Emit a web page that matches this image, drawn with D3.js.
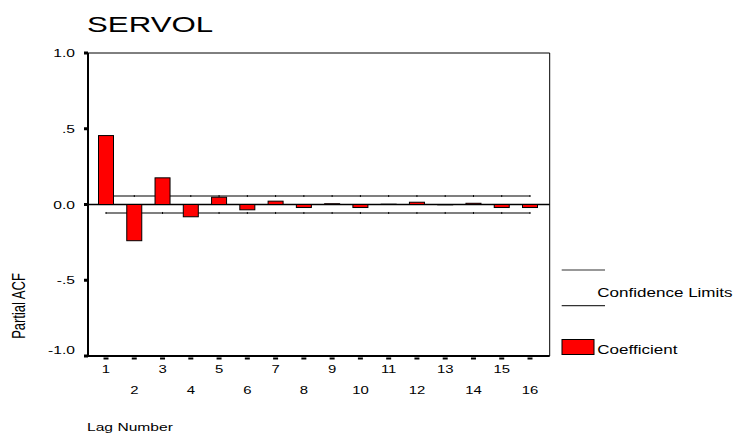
<!DOCTYPE html>
<html>
<head>
<meta charset="utf-8">
<script src="https://cdn.jsdelivr.net/npm/d3@7"></script>
<style>
  body { margin: 0; background: #fff; }
  svg { display: block; font-family: Arial, "Liberation Sans", sans-serif; }
</style>
</head>
<body>
<div id="chart"></div>
<script>
// data
const lags = [1, 2, 3, 4, 5, 6, 7, 8, 9, 10, 11, 12, 13, 14, 15, 16];
const pacf = [0.455, -0.239, 0.176, -0.081, 0.048, -0.035, 0.022, -0.020,
              0.005, -0.020, 0.002, 0.015, -0.002, 0.008, -0.020, -0.020];
const confLimit = 0.056;
const yTicks = [1, 0.5, 0, -0.5, -1];
const yTickLabels = ["1.0", ".5", "0.0", "-.5", "-1.0"];

const width = 733,
    height = 439,
    margin = ({ top: 53, right: 184, bottom: 83, left: 88 }),
    sx = 1.42; // the original output is stretched sideways

const data = lags.map((d, i) => ({ lag: d, value: pacf[i] }));

const svg = d3.select("#chart")
    .append("svg")
    .attr("width", width)
    .attr("height", height)
    .attr("viewBox", [0, 0, width, height]);

const x = d3.scalePoint()
    .domain(lags)
    .range([106, 530]);

const y = d3.scaleLinear()
    .domain([-1, 1])
    .range([height - margin.bottom, margin.top]);

const barW = 15;
const right = width - margin.right + 0.7;

// stretched text helper
function label(g, txt, px, py, size, anchor) {
    return g.append("text")
        .text(txt)
        .attr("transform", `translate(${px},${py}) scale(${sx},1)`)
        .attr("font-size", size)
        .attr("text-anchor", anchor || "start")
        .attr("fill", "#000");
}

// frame (top and right)
svg.append("path")
    .attr("d", `M${margin.left},${y(1)}H${right}V${y(-1)}`)
    .attr("fill", "none")
    .attr("stroke", "#000")
    .attr("stroke-width", 1);

// confidence limits
const conf = svg.append("g");
[confLimit, -confLimit].forEach(c => {
    conf.append("line")
        .attr("x1", x(lags[0]))
        .attr("x2", x(lags[lags.length - 1]))
        .attr("y1", y(c))
        .attr("y2", y(c))
        .attr("stroke", "#555")
        .attr("stroke-width", 1.3);
    conf.selectAll(null)
        .data(lags)
        .join("line")
        .attr("x1", d => x(d))
        .attr("x2", d => x(d))
        .attr("y1", y(c) - 1)
        .attr("y2", y(c) + 1)
        .attr("stroke", "#000")
        .attr("stroke-width", 1);
});

// zero line
svg.append("line")
    .attr("x1", margin.left)
    .attr("x2", right)
    .attr("y1", y(0))
    .attr("y2", y(0))
    .attr("stroke", "#000")
    .attr("stroke-width", 1.3);

// bars
svg.selectAll(".bar")
    .data(data)
    .join("rect")
    .attr("class", "bar")
    .attr("x", d => x(d.lag) - barW / 2)
    .attr("width", barW)
    .attr("y", d => y(Math.max(0, d.value)))
    .attr("height", d => Math.abs(y(d.value) - y(0)))
    .attr("fill", "#ff0000")
    .attr("stroke", "#000")
    .attr("stroke-width", 1);

// axes lines
svg.append("path")
    .attr("d", `M${margin.left},${y(1)}V${y(-1)}H${right}`)
    .attr("fill", "none")
    .attr("stroke", "#000")
    .attr("stroke-width", 2);

// y ticks + labels
const yAxis = svg.append("g");
yTicks.forEach((t, i) => {
    yAxis.append("line")
        .attr("x1", margin.left - 4)
        .attr("x2", margin.left)
        .attr("y1", y(t))
        .attr("y2", y(t))
        .attr("stroke", "#000")
        .attr("stroke-width", 3);
    const shift = t === -1 ? -6 : 0;
    label(yAxis, yTickLabels[i], 75, y(t) + 4 + shift, 11, "end");
});

// x ticks + labels (odd lags on first row, even on second)
const xAxis = svg.append("g");
lags.forEach(d => {
    xAxis.append("line")
        .attr("x1", x(d) - 2.5)
        .attr("x2", x(d) + 2.5)
        .attr("y1", y(-1) + 2.5)
        .attr("y2", y(-1) + 2.5)
        .attr("stroke", "#000")
        .attr("stroke-width", 2);
    label(xAxis, d, x(d), d % 2 ? 372.5 : 393.5, 10.5, "middle");
});

// titles
label(svg, "SERVOL", 87, 32, 22);
label(svg, "Lag Number", 87, 431, 11);

svg.append("text")
    .text("Partial ACF")
    .attr("transform", `translate(25,306) scale(${sx},1) rotate(-90)`)
    .attr("font-size", 13)
    .attr("text-anchor", "middle");

// legend
const legend = svg.append("g");
[270, 305.7].forEach(ly => {
    legend.append("line")
        .attr("x1", 561.7)
        .attr("x2", 605)
        .attr("y1", ly)
        .attr("y2", ly)
        .attr("stroke", "#333")
        .attr("stroke-width", 1.2);
});
label(legend, "Confidence Limits", 597.3, 296.5, 12);

legend.append("rect")
    .attr("x", 562)
    .attr("y", 339.5)
    .attr("width", 32)
    .attr("height", 15)
    .attr("fill", "#ff0000")
    .attr("stroke", "#000")
    .attr("stroke-width", 1);
label(legend, "Coefficient", 597.3, 353.5, 12);
</script>
</body>
</html>
